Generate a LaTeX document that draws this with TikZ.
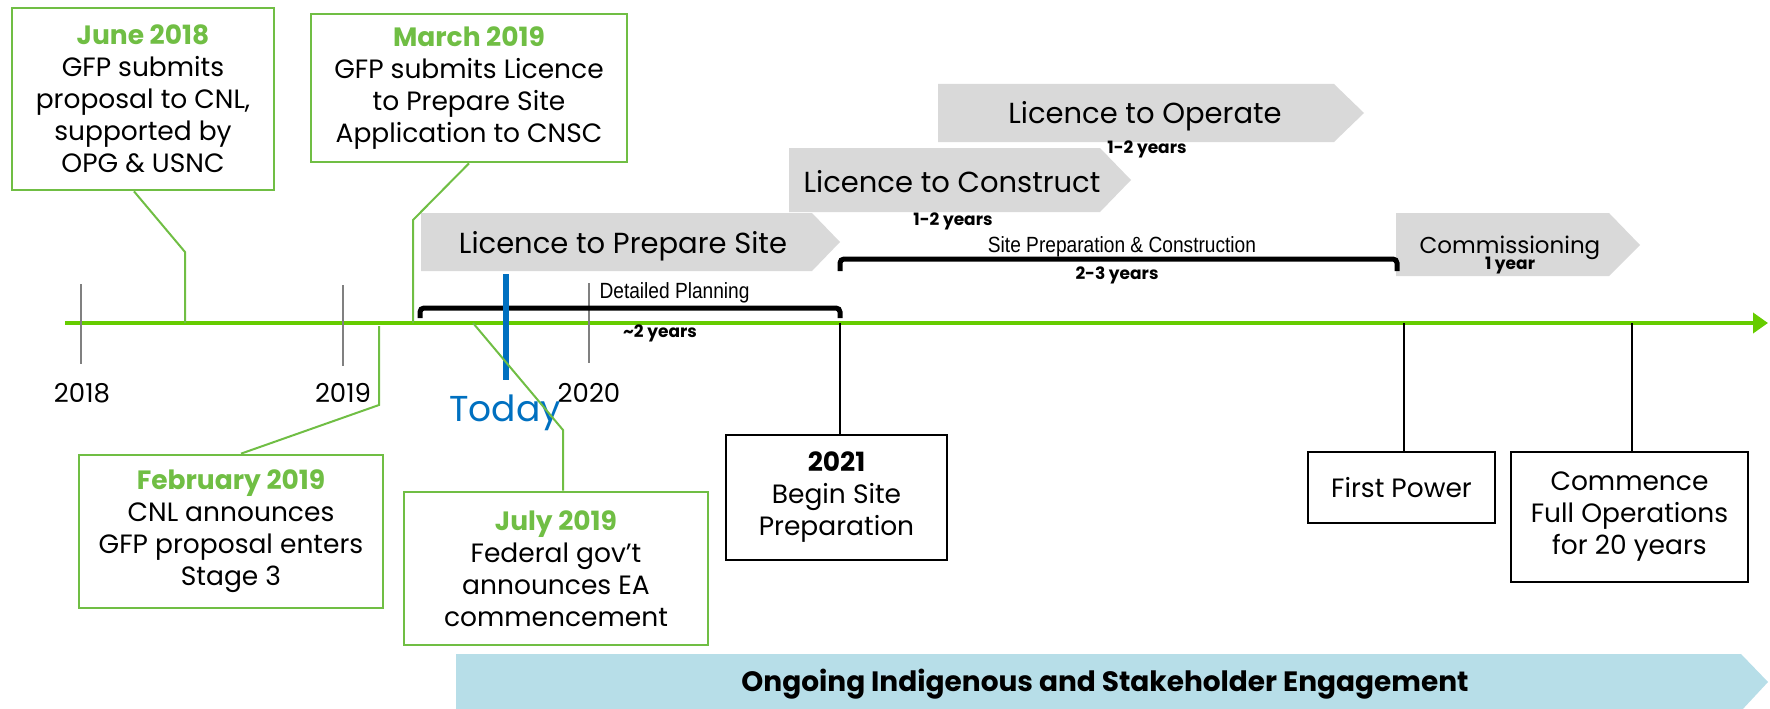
\documentclass[tikz,border=0pt]{standalone}
\usepackage{fontspec}
\setmainfont{Poppins}
\newfontfamily\narrowfont{Liberation Sans}[FakeStretch=0.87]
\usetikzlibrary{arrows.meta}

\definecolor{boxgreen}{RGB}{112,190,68}
\definecolor{axisgreen}{RGB}{102,204,0}
\definecolor{chevgray}{RGB}{217,217,217}
\definecolor{todayblue}{RGB}{0,112,192}
\definecolor{bannerblue}{RGB}{183,222,232}
\definecolor{tickgray}{RGB}{128,128,128}

\newcommand\boxtitle[1]{{\color{boxgreen}\bfseries #1}}

\tikzset{
  greenbox/.style={draw=boxgreen, line width=2.7pt, fill=white, align=center,
    inner sep=0pt, font=\fontsize{26.5}{32}\selectfont},
  blackbox/.style={draw=black, line width=2.7pt, fill=white, align=center,
    inner sep=0pt, font=\fontsize{26.5}{32}\selectfont},
  calloutline/.style={draw=boxgreen, line width=2pt},
  stemline/.style={draw=black, line width=2.5pt},
  yeartick/.style={draw=tickgray, line width=2.5pt},
  yearlabel/.style={font=\fontsize{26}{30}\selectfont},
  bracketline/.style={draw=black, line width=5pt, rounded corners=4pt},
  chevtext/.style={font=\fontsize{29}{34}\selectfont},
  durtext/.style={font=\bfseries\fontsize{17}{20}\selectfont},
  narrowtext/.style={font=\narrowfont\fontsize{22}{26}\selectfont},
}

\begin{document}
\begin{tikzpicture}[x=1pt,y=-1pt]
\useasboundingbox (0,0) rectangle (1770,709);

% licence phases (grey chevrons)
\fill[chevgray] (938,84) -- (1334,84) -- (1364,113) -- (1334,142) -- (938,142) -- cycle;
\node[chevtext] (operate) at (1145,116) {Licence to Operate};
\node[durtext] (operatedur) at (1147,149) {1-2 years};

\fill[chevgray] (789,148) -- (1100,148) -- (1131,180) -- (1100,212) -- (789,212) -- cycle;
\node[chevtext] (construct) at (952,182) {Licence to Construct};
\node[durtext] (constructdur) at (953,221) {1-2 years};

\fill[chevgray] (421,213) -- (812,213) -- (840,242) -- (812,271) -- (421,271) -- cycle;
\node[chevtext] (prepare) at (623,246) {Licence to Prepare Site};

\fill[chevgray] (1396,213) -- (1609,213) -- (1640,245) -- (1609,276) -- (1396,276) -- cycle;
\node[font=\fontsize{23}{27}\selectfont] (commission) at (1510,248) {Commissioning};
\node[durtext] (commissiondur) at (1510,266) {1 year};

% engagement banner
\fill[bannerblue] (456,654) -- (1741,654) -- (1768,682) -- (1741,711) -- (456,711) -- cycle;
\node[font=\bfseries\fontsize{28}{30}\selectfont] (engage) at (1105,684)
  {Ongoing Indigenous and Stakeholder Engagement};

% time axis
\coordinate (axstart) at (65,323);
\coordinate (axend) at (1768,323);
\draw[axisgreen, line width=4pt, -{Triangle[length=15pt,width=20pt]}] (axstart) -- (axend);

% year ticks and labels
\draw[yeartick] (81,284) -- (81,364);
\draw[yeartick] (343,285) -- (343,366);
\draw[yeartick] (589,283) -- (589,363);
\node[yearlabel] (y2018) at (82,393) {2018};
\node[yearlabel] (y2019) at (343,393) {2019};
\node[yearlabel] (y2020) at (589,393) {2020};

% duration brackets
\draw[bracketline] (420,318) -- (420,308) -- (840,308) -- (840,318);
\node[narrowtext, anchor=west] (planning) at (596,293) {Detailed Planning};
\node[durtext] (planningdur) at (660,333) {\textasciitilde2 years};

\draw[bracketline] (840,271) -- (840,259) -- (1397,259) -- (1397,271);
\node[narrowtext] (sitework) at (1122,247) {Site Preparation \& Construction};
\node[durtext] (siteworkdur) at (1117,275) {2-3 years};

% today marker
\draw[todayblue, line width=6.5pt] (506,274) -- (506,380);
\node[font=\fontsize{36}{40}\selectfont, text=todayblue] (today) at (505,413) {Today};

% past events (green boxes)
\node[greenbox, minimum width=262pt, minimum height=182pt] (june) at (143,99)
  {\boxtitle{June 2018}\\GFP submits\\proposal to CNL,\\supported by\\OPG \& USNC};
\node[greenbox, minimum width=316pt, minimum height=148pt] (march) at (469,88)
  {\boxtitle{March 2019}\\GFP submits Licence\\to Prepare Site\\Application to CNSC};
\node[greenbox, minimum width=304pt, minimum height=153pt] (feb) at (231,531.5)
  {\boxtitle{February 2019}\\CNL announces\\GFP proposal enters\\Stage 3};
\node[greenbox, minimum width=304pt, minimum height=153pt] (july) at (556,568.5)
  {\boxtitle{July 2019}\\Federal gov't\\announces EA\\commencement};

\coordinate (junebend) at (185,252);
\coordinate (juneaxis) at (185,323);
\draw[calloutline] ([xshift=-9pt]june.south) -- (junebend) -- (juneaxis);
\coordinate (marchbend) at (413,220);
\coordinate (marchaxis) at (413,323);
\draw[calloutline] (march.south) -- (marchbend) -- (marchaxis);
\coordinate (febbend) at (379,405);
\coordinate (febaxis) at (379,326);
\draw[calloutline] ([xshift=10pt]feb.north) -- (febbend) -- (febaxis);
\coordinate (julybend) at (563,430);
\coordinate (julyaxis) at (473,323);
\draw[calloutline] ([xshift=7pt]july.north) -- (julybend) -- (julyaxis);

% milestones (black boxes)
\node[blackbox, minimum width=221pt, minimum height=125pt] (begin) at (836.5,497.5)
  {\textbf{2021}\\Begin Site\\Preparation};
\node[blackbox, minimum width=187pt, minimum height=71pt] (power) at (1401.5,487.5)
  {First Power};
\node[blackbox, minimum width=237pt, minimum height=130pt] (fullops) at (1629.5,517)
  {Commence\\Full Operations\\for 20 years};

\coordinate (beginaxis) at (840,323);
\coordinate (poweraxis) at (1404,323);
\coordinate (fullopsaxis) at (1632,323);
\draw[stemline] (beginaxis) -- (beginaxis |- begin.north);
\draw[stemline] (poweraxis) -- (poweraxis |- power.north);
\draw[stemline] (fullopsaxis) -- (fullopsaxis |- fullops.north);
\end{tikzpicture}
\end{document}
